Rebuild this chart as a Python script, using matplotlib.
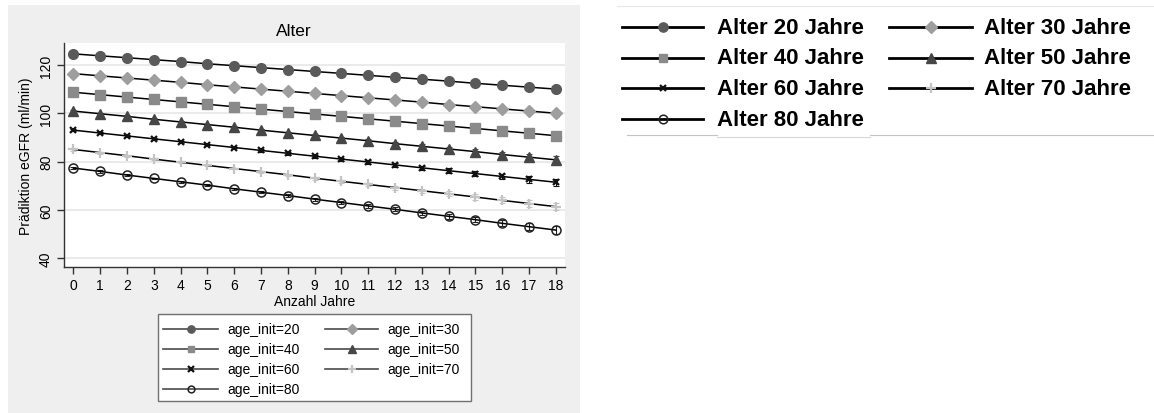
import matplotlib
matplotlib.use("Agg")
import matplotlib.pyplot as plt
from matplotlib.lines import Line2D
from matplotlib.patches import Rectangle

plt.rcParams['font.family'] = ['Liberation Sans', 'DejaVu Sans']

years = list(range(19))

egfr_age20 = [124.6, 123.8, 123.0, 122.2, 121.4, 120.5, 119.7, 118.9, 118.1, 117.3,
              116.5, 115.7, 114.9, 114.1, 113.3, 112.4, 111.6, 110.8, 110.0]
egfr_age30 = [116.4, 115.5, 114.6, 113.7, 112.8, 111.8, 110.9, 110.0, 109.1, 108.2,
              107.3, 106.4, 105.5, 104.6, 103.6, 102.7, 101.8, 100.9, 100.0]
egfr_age40 = [108.7, 107.7, 106.7, 105.7, 104.7, 103.7, 102.7, 101.7, 100.7, 99.7,
              98.7, 97.7, 96.7, 95.7, 94.7, 93.7, 92.7, 91.7, 90.7]
egfr_age50 = [100.9, 99.8, 98.7, 97.5, 96.4, 95.3, 94.2, 93.0, 91.9, 90.8,
              89.7, 88.6, 87.4, 86.3, 85.2, 84.1, 82.9, 81.8, 80.7]
egfr_age60 = [93.0, 91.8, 90.6, 89.4, 88.2, 87.0, 85.8, 84.6, 83.4, 82.2,
              81.0, 79.8, 78.6, 77.4, 76.2, 75.0, 73.8, 72.6, 71.4]
egfr_age70 = [85.0, 83.7, 82.4, 81.0, 79.7, 78.4, 77.1, 75.8, 74.5, 73.1,
              71.8, 70.5, 69.2, 67.9, 66.6, 65.3, 63.9, 62.6, 61.3]
egfr_age80 = [77.3, 75.9, 74.4, 73.0, 71.6, 70.2, 68.7, 67.3, 65.9, 64.4,
              63.0, 61.6, 60.2, 58.7, 57.3, 55.9, 54.4, 53.0, 51.6]

# half width of the 95% CI around each prediction
ci_half = [0.5, 0.45, 0.4, 0.35, 0.35, 0.35, 0.4, 0.45, 0.5, 0.55,
           0.6, 0.7, 0.8, 0.9, 1.0, 1.1, 1.2, 1.35, 1.5]

ages = [20, 30, 40, 50, 60, 70, 80]
series = [egfr_age20, egfr_age30, egfr_age40, egfr_age50, egfr_age60, egfr_age70, egfr_age80]
short_labels = ['age_init=%d' % a for a in ages]
long_labels = ['Alter %d Jahre' % a for a in ages]

styles = [
    dict(marker='o', mfc='#5a5a5a', mec='#5a5a5a', ms=7, mew=1),
    dict(marker='D', mfc='#9e9e9e', mec='#9e9e9e', ms=6.5, mew=1),
    dict(marker='s', mfc='#8a8a8a', mec='#8a8a8a', ms=6.5, mew=1),
    dict(marker='^', mfc='#464646', mec='#464646', ms=7, mew=1),
    dict(marker='x', mfc='#111111', mec='#111111', ms=5, mew=1.6),
    dict(marker='+', mfc='#c4c4c4', mec='#c4c4c4', ms=7, mew=1.6),
    dict(marker='o', mfc='none', mec='#222222', ms=6.5, mew=1.1),
]

W, H = 1154, 414
fig = plt.figure(figsize=(W / 100, H / 100), dpi=100)
fig.patch.set_facecolor('white')


def fx(x):
    return x / W


def fy(y):
    return 1 - y / H


# grey graph region
fig.patches.append(Rectangle((fx(8), 0), fx(580) - fx(8), fy(6), transform=fig.transFigure,
                             facecolor='#efefef', edgecolor='none', zorder=-1))

ax = fig.add_axes([fx(64), fy(268), fx(565) - fx(64), fy(44) - fy(268)])
ax.set_zorder(2)
ax.set_facecolor('white')

for vals, st in zip(series, styles):
    ax.errorbar(years, vals, yerr=ci_half, fmt='none', ecolor=st['mec'],
                elinewidth=0.8, capsize=2.5, capthick=0.8, zorder=2)
    ax.plot(years, vals, color='black', lw=1.1, zorder=3, **st)

ax.set_xlim(-0.35, 18.34)
ax.set_ylim(36.3, 129.1)
ax.set_xticks(years)
ax.set_yticks([40, 60, 80, 100, 120])
ax.yaxis.grid(True, color='#e6e6e6', lw=1.2)
ax.set_axisbelow(True)
for side in ['top', 'right']:
    ax.spines[side].set_visible(False)
for side in ['left', 'bottom']:
    ax.spines[side].set_color('#333333')
    ax.spines[side].set_linewidth(1)
ax.tick_params(axis='both', length=5, width=1, color='#333333', labelsize=10, pad=3)
ax.tick_params(axis='y', labelrotation=90)
for lbl in ax.get_yticklabels():
    lbl.set_verticalalignment('center')
ax.set_xlabel('Anzahl Jahre', fontsize=10, labelpad=1)
ax.set_ylabel('Prädiktion eGFR (ml/min)', fontsize=10, labelpad=4)

fig.text(fx(294), fy(32), 'Alter', ha='center', va='center', fontsize=12.5)


def draw_key(x0, x1, y, st, label, tx, line_color, lw, ms_scale, fontsize, weight):
    fig.add_artist(Line2D([fx(x0), fx(x1)], [fy(y), fy(y)], transform=fig.transFigure,
                          color=line_color, lw=lw))
    fig.add_artist(Line2D([fx((x0 + x1) / 2)], [fy(y)], transform=fig.transFigure,
                          linestyle='none', marker=st['marker'], mfc=st['mfc'], mec=st['mec'],
                          ms=st['ms'] * ms_scale, mew=st['mew']))
    fig.text(fx(tx), fy(y), label, ha='left', va='center', fontsize=fontsize, weight=weight)


# legend inside the graph region
fig.patches.append(Rectangle((fx(158), fy(402)), fx(471) - fx(158), fy(315) - fy(402),
                             transform=fig.transFigure, facecolor='white',
                             edgecolor='#707070', lw=1, zorder=1))
for i, (st, lab) in enumerate(zip(styles, short_labels)):
    row, col = divmod(i, 2)
    y = 330 + row * 20
    if col == 0:
        draw_key(163, 218, y, st, lab, 227, '#4a4a4a', 1.2, 0.75, 10, 'normal')
    else:
        draw_key(325, 378, y, st, lab, 387, '#4a4a4a', 1.2, 0.75, 10, 'normal')

# large legend on the right
for i, (st, lab) in enumerate(zip(styles, long_labels)):
    row, col = divmod(i, 2)
    y = 28 + row * 30.7
    if col == 0:
        draw_key(622, 703, y, st, lab, 717, 'black', 2, 0.95, 16, 'bold')
    else:
        draw_key(889, 972, y, st, lab, 984, 'black', 2, 0.95, 16, 'bold')

fig.add_artist(Line2D([fx(617), fx(1154)], [fy(7), fy(7)], transform=fig.transFigure,
                      color='#e8e8e8', lw=0.8))
fig.add_artist(Line2D([fx(627), fx(717)], [fy(136), fy(136)], transform=fig.transFigure,
                      color='#c4c4c4', lw=0.8))
fig.add_artist(Line2D([fx(717), fx(870)], [fy(138), fy(138)], transform=fig.transFigure,
                      color='#d8d8d8', lw=0.8))
fig.add_artist(Line2D([fx(870), fx(1154)], [fy(136), fy(136)], transform=fig.transFigure,
                      color='#c4c4c4', lw=0.8))

fig.savefig('out.png', dpi=100)
